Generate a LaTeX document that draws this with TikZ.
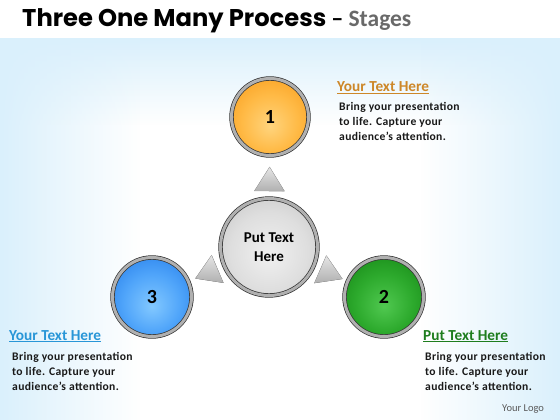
\documentclass[tikz,border=0pt]{standalone}
\usepackage{fontspec}
\setmainfont{Carlito}
\newfontfamily\titlefont{Poppins}
\usetikzlibrary{calc,fadings}
\definecolor{bgblue}{RGB}{218,240,252}
\definecolor{headOrange}{RGB}{205,135,40}
\definecolor{headBlue}{RGB}{40,150,215}
\definecolor{headGreen}{RGB}{30,125,30}
\definecolor{bodyText}{RGB}{25,25,25}
\definecolor{stageGray}{RGB}{105,105,105}
\pgfdeclareradialshading{ballO}{\pgfpoint{0bp}{-6bp}}{color(0bp)=(rgb,255:red,255;green,212;blue,125); color(18bp)=(rgb,255:red,255;green,186;blue,70); color(40bp)=(rgb,255:red,246;green,148;blue,15); color(50bp)=(rgb,255:red,225;green,118;blue,0)}
\pgfdeclareradialshading{ballB}{\pgfpoint{0bp}{-6bp}}{color(0bp)=(rgb,255:red,130;green,200;blue,255); color(18bp)=(rgb,255:red,80;green,165;blue,250); color(40bp)=(rgb,255:red,25;green,115;blue,230); color(50bp)=(rgb,255:red,10;green,80;blue,200)}
\pgfdeclareradialshading{ballG}{\pgfpoint{0bp}{-6bp}}{color(0bp)=(rgb,255:red,80;green,200;blue,80); color(18bp)=(rgb,255:red,45;green,170;blue,45); color(40bp)=(rgb,255:red,15;green,125;blue,15); color(50bp)=(rgb,255:red,5;green,95;blue,5)}
\pgfdeclareradialshading{ballC}{\pgfpoint{0bp}{-4bp}}{color(0bp)=(rgb,255:red,240;green,240;blue,240); color(20bp)=(rgb,255:red,222;green,222;blue,222); color(40bp)=(rgb,255:red,190;green,190;blue,190); color(50bp)=(rgb,255:red,165;green,165;blue,165)}
\tikzset{
  ball/.style={circle, inner sep=0pt, draw=black!80, line width=0.7pt,
    double=gray!62, double distance=3pt, font=\fontsize{20}{20}\selectfont\bfseries, text=black},
  tri/.style={top color=gray!20, bottom color=gray!62, draw=gray!65, line width=0.3pt},
  head/.style={anchor=base west, inner sep=0pt, font=\fontsize{15.3}{15}\selectfont\bfseries},
  body/.style={anchor=base west, inner sep=0pt, align=left, text=bodyText,
    font=\fontsize{11.6}{15}\selectfont\bfseries\addfontfeature{LetterSpace=3}}
}
\begin{document}
\begin{tikzpicture}[x=1pt,y=-1pt]
\useasboundingbox (0,0) rectangle (560,420);
% background
\fill[white] (0,0) rectangle (560,420);
\fill[bgblue, path fading=south] (0,38) rectangle (560,125);
\fill[bgblue, path fading=east] (0,38) rectangle (140,420);
\fill[bgblue, path fading=west] (420,38) rectangle (560,420);
% title
\node[anchor=base west, inner sep=0pt] (title) at (22,27)
  {\titlefont\fontsize{24.2}{24}\selectfont\bfseries Three One Many Process {\rmfamily –} \textcolor{stageGray}{\rmfamily\fontsize{23.5}{23}\selectfont Stages}};
% circle centres (for triangles)
\coordinate (cc) at (269,247);
\coordinate (c1) at (270,117);
\coordinate (c2) at (384,297);
\coordinate (c3) at (152,297);
% triangles
\foreach \t in {c1,c2,c3}{
  \coordinate (ta) at ($(cc)!80pt!(\t)$);
  \coordinate (tb) at ($(cc)!56pt!(\t)$);
  \filldraw[tri] (ta) -- ($(tb)!15pt!90:(\t)$) -- ($(tb)!15pt!-90:(\t)$) -- cycle;
}
\node[ball, minimum size=97pt, shading=ballC,
  font=\fontsize{15}{19}\selectfont\bfseries, align=center] (c) at (cc) {Put Text\\Here};
\node[ball, minimum size=77pt, shading=ballO] (n1) at (c1) {1};
\node[ball, minimum size=79pt, shading=ballG] (n2) at (c2) {2};
\node[ball, minimum size=79pt, shading=ballB] (n3) at (c3) {3};
% text blocks
\node[head, text=headOrange] (h1) at (337,92) {\underline{Your Text Here}};
\node[body] (b1) at (339,140) {Bring your presentation\\to life. Capture your\\audience’s attention.};
\node[head, text=headBlue] (h3) at (9,340) {\underline{Your Text Here}};
\node[body] (b3) at (12,390) {Bring your presentation\\to life. Capture your\\audience’s attention.};
\node[head, text=headGreen] (h2) at (423,340) {\underline{Put Text Here}};
\node[body] (b2) at (425,390) {Bring your presentation\\to life. Capture your\\audience’s attention.};
\node[anchor=base west, inner sep=0pt, text=black!65, font=\fontsize{10.5}{12}\selectfont] (logo) at (502,411) {Your Logo};
\end{tikzpicture}
\end{document}
